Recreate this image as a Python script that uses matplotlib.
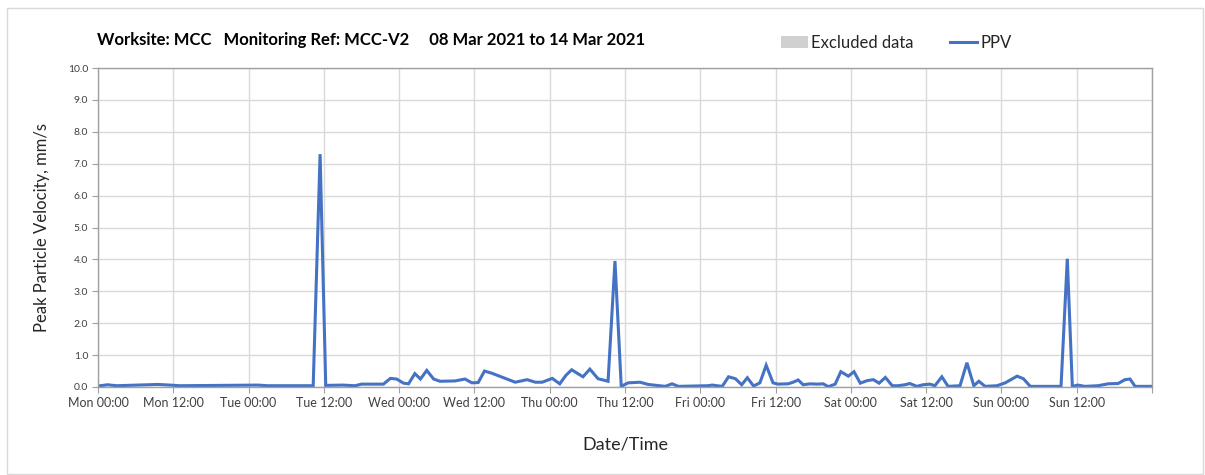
import matplotlib
matplotlib.use("Agg")
import matplotlib.pyplot as plt
from matplotlib.patches import Patch, Rectangle
from matplotlib.lines import Line2D

# data (hours from Mon 00:00, PPV mm/s)
hours = [0, 1.5, 3, 9.5, 11.5, 13, 25.5, 27, 34.3, 35.4, 36.3, 39, 41, 42, 45.5,
         46.6, 47.6, 48.7, 49.5, 50.5, 51.4, 52.4, 53.5, 54.5, 56.9, 58.5, 59.6,
         60.6, 61.6, 62.8, 66.5, 68.4, 69.7, 70.8, 72.4, 73.6, 74.6, 75.5, 77.3,
         78.4, 79.7, 81.3, 82.4, 83.4, 84.5, 86.4, 87.7, 90.4, 91.5, 92.5, 97.2,
         97.9, 99.5, 100.5, 101.6, 102.6, 103.5, 104.5, 105.5, 106.5, 107.6, 108.4,
         110, 110.8, 111.6, 112.4, 113.5, 114.6, 115.6, 116.4, 117.5, 118.4, 119.6,
         120.5, 121.5, 122.6, 123.6, 124.5, 125.5, 126.6, 127.5, 128.6, 129.4,
         130.5, 131.5, 132.6, 133.4, 134.5, 135.5, 137.4, 138.5, 139.6, 140.4,
         141.4, 143.3, 144.6, 146.5, 147.5, 148.6, 153.5, 154.5, 155.3, 156.2,
         157.3, 159.4, 161, 162.6, 163.7, 164.5, 165.3, 168]
ppv = [0.03, 0.07, 0.04, 0.08, 0.06, 0.04, 0.06, 0.04, 0.04, 7.3, 0.05, 0.06, 0.04, 0.09, 0.09,
       0.27, 0.25, 0.12, 0.1, 0.42, 0.25, 0.52, 0.25, 0.18, 0.19, 0.25, 0.13,
       0.14, 0.5, 0.43, 0.15, 0.23, 0.15, 0.15, 0.27, 0.1, 0.37, 0.54, 0.32,
       0.56, 0.26, 0.18, 3.95, 0.02, 0.13, 0.15, 0.08, 0.02, 0.1, 0.02, 0.04,
       0.06, 0.02, 0.32, 0.26, 0.07, 0.29, 0.03, 0.13, 0.68, 0.13, 0.09,
       0.1, 0.15, 0.22, 0.07, 0.1, 0.09, 0.1, 0.01, 0.09, 0.48, 0.34,
       0.48, 0.12, 0.2, 0.23, 0.12, 0.3, 0.04, 0.04, 0.07, 0.11,
       0.02, 0.07, 0.09, 0.04, 0.32, 0.02, 0.04, 0.76, 0.04, 0.18,
       0.02, 0.04, 0.13, 0.34, 0.26, 0.02, 0.02, 4.02, 0.02, 0.06,
       0.02, 0.04, 0.1, 0.11, 0.23, 0.25, 0.02, 0.02]

days = ["Mon", "Tue", "Wed", "Thu", "Fri", "Sat", "Sun"]
tick_labels = []
for d in days:
    tick_labels.append(d + " 00:00")
    tick_labels.append(d + " 12:00")
tick_labels.append("")

title = "Worksite: MCC   Monitoring Ref: MCC-V2     08 Mar 2021 to 14 Mar 2021"

plt.rcParams['font.family'] = ['Lato', 'DejaVu Sans']

W, H = 1205, 475
fig = plt.figure(figsize=(W / 100, H / 100), dpi=100)
fig.patches.append(Rectangle((7 / W, 1 / H), 1196 / W, 1 - 9 / H, transform=fig.transFigure,
                             fill=False, edgecolor="#d9d9d9", linewidth=1))

ax = fig.add_axes([98 / W, 1 - 387 / H, 1054 / W, 319 / H])
ax.plot(hours, ppv, color="#4472C4", linewidth=2.2, solid_joinstyle="miter")

ax.set_xlim(0, 168)
ax.set_ylim(0, 10)
ax.set_xticks(range(0, 169, 12))
ax.set_xticklabels(tick_labels, fontsize=9, color="#404040")
ax.set_yticks(range(0, 11))
ax.set_yticklabels(["%.1f" % v for v in range(0, 11)], fontsize=7.5, color="#404040")
ax.tick_params(axis="both", length=4, width=0.8, color="#a0a0a0", pad=3)
ax.grid(True, color="#d9d9d9", linewidth=1)
ax.set_axisbelow(True)
for s in ax.spines.values():
    s.set_color("#a0a0a0")
    s.set_linewidth(1)

ax.set_ylabel("Peak Particle Velocity, mm/s", fontsize=12, color="#262626", labelpad=13)
ax.set_xlabel("Date/Time", fontsize=13, color="#262626", labelpad=20)

fig.text(97 / W, 1 - 40 / H, title, fontsize=12, fontweight="bold", va="center", ha="left")

handles = [Patch(facecolor="#d0d0d0", edgecolor="none"),
           Line2D([0], [0], color="#4472C4", linewidth=2.2)]
fig.legend(handles, ["Excluded data", "PPV"], loc="center left",
           bbox_to_anchor=(766 / W, 1 - 43 / H), ncol=2, frameon=False,
           fontsize=12, handlelength=1.6, handletextpad=0.2, columnspacing=2.2,
           labelcolor="#262626")

fig.savefig("out.png", dpi=100)
